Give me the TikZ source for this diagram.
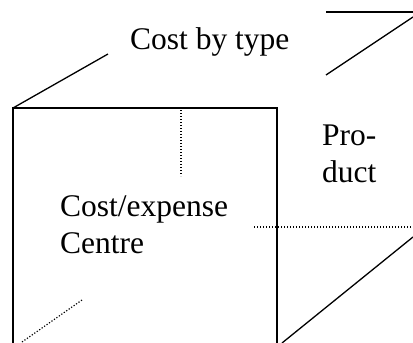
\documentclass[tikz,border=0pt]{standalone}
\usepackage{fontspec}
\setmainfont{Liberation Serif}
\tikzset{
  edge/.style={line width=1.3pt, black},
  hidden/.style={line width=1.2pt, black, dash pattern=on 1.2pt off 1.8pt},
  label/.style={inner sep=0pt, anchor=base west, align=left,
    font=\fontsize{31.5}{37}\selectfont},
}

\begin{document}
\begin{tikzpicture}[x=1pt,y=-1pt]
    \useasboundingbox (0,0) rectangle (413,343);
    % ---- front face corners
    \coordinate (F1) at (13,108);
    \coordinate (F2) at (277,108);
    \coordinate (F3) at (277,343);
    \coordinate (F4) at (13,343);
    % ---- receding edges, broken by the labels
    \coordinate (L1) at (108,54);
    \coordinate (R1) at (326,75);
    \coordinate (R2) at (413,17);
    \coordinate (T1) at (326,12);
    \coordinate (T2) at (413,12);
    \coordinate (B1) at (282,343);
    \coordinate (B2) at (413,237);
    % ---- hidden edges
    \coordinate (H1) at (181,110);
    \coordinate (H2) at (181,176);
    \coordinate (H3) at (254,227);
    \coordinate (H4) at (413,227);
    \coordinate (H5) at (22,342);
    \coordinate (H6) at (82,300);

    \draw[edge] (F4)--(F1)--(F2)--(F3);
    \draw[edge] (F1)--(L1);
    \draw[edge] (R1)--(R2);
    \draw[edge] (T1)--(T2);
    \draw[edge] (B1)--(B2);
    \draw[hidden] (H1)--(H2);
    \draw[hidden] (H3)--(H4);
    \draw[hidden] (H5)--(H6);

    % ---- base anchor sits on the last line
    \node[label] (type) at (130,49) {Cost by type};
    \node[label] (centre) at (60,253) {Cost/expense\\Centre};
    \node[label] (product) at (322,182) {Pro-\\duct};
\end{tikzpicture}
\end{document}
